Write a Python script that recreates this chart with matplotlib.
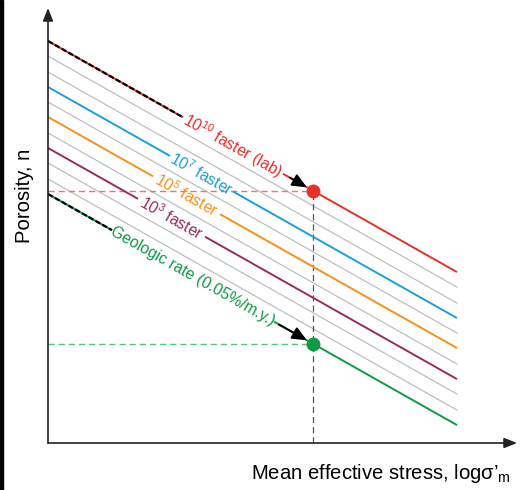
import numpy as np
import matplotlib
matplotlib.use("Agg")
import matplotlib.pyplot as plt
from matplotlib.patches import Rectangle

plt.rcParams['font.family'] = ['Liberation Sans', 'DejaVu Sans']
plt.rcParams['mathtext.fontset'] = 'custom'
plt.rcParams['mathtext.rm'] = 'Liberation Sans'
plt.rcParams['mathtext.it'] = 'Liberation Sans:italic'
plt.rcParams['lines.scale_dashes'] = False

# ---------------- data (arbitrary units: log stress vs porosity) ----------------
stress_start = 0.0
stress_end = 4.09
stress_point = 2.65
slope = -0.565
# porosity at stress_start for each of the 11 parallel compaction lines (top -> bottom)
porosity_intercepts = [4.02, 3.87, 3.71, 3.56, 3.41, 3.26, 3.10, 2.95, 2.80, 2.64, 2.49]
line_kinds = ['lab', 'gray', 'gray', 'e7', 'gray', 'e5', 'gray', 'e3', 'gray', 'gray', 'geo']

labels = {
    'lab': r"$\mathregular{10^{10}}$ faster (lab)",
    'e7': r"$\mathregular{10^{7}}$ faster",
    'e5': r"$\mathregular{10^{5}}$ faster",
    'e3': r"$\mathregular{10^{3}}$ faster",
    'geo': "Geologic rate (0.05%/m.y.)",
}
colors = {
    'lab': '#e8302b',
    'e7': '#1ba0dc',
    'e5': '#f5921e',
    'e3': '#962d5f',
    'geo': '#0f9a47',
    'gray': '#b8b8b8',
}
# gap in each coloured line where its label sits (stress units)
label_gaps = {
    'lab': (1.35, 2.35),
    'e7': (1.22, 1.85),
    'e5': (1.05, 1.72),
    'e3': (0.90, 1.57),
    'geo': (0.64, 2.26),
}
arrow_start = {'lab': 2.42, 'geo': 2.31}
xlabel = "Mean effective stress, log\u03c3\u2019$_{\\mathregular{m}}$"
ylabel = "Porosity, n"

# ---------------- figure ----------------
W, H = 525, 490
fig = plt.figure(figsize=(W / 100, H / 100), dpi=100)
ax = fig.add_axes([48 / W, 47 / H, 469 / W, 435 / H])
ax.set_xlim(0, 4.69)
ax.set_ylim(0, 4.35)
ax.axis('off')

fig.patches.append(Rectangle((0, 0), 3 / W, 1, transform=fig.transFigure,
                             color='black', zorder=10))

def por(x, b):
    return b + slope * x

angle = np.degrees(np.arctan(slope))

for b, kind in zip(porosity_intercepts, line_kinds):
    c = colors[kind]
    if kind == 'gray':
        xs = np.array([stress_start, stress_end])
        ax.plot(xs, por(xs, b), color=c, lw=0.8, zorder=1)
        continue
    g0, g1 = label_gaps[kind]
    xs1 = np.array([stress_start, g0])
    xs2 = np.array([g1, stress_end])
    ax.plot(xs1, por(xs1, b), color=c, lw=1.4, zorder=2, solid_capstyle='butt')
    ax.plot(xs2, por(xs2, b), color=c, lw=1.4, zorder=2, solid_capstyle='butt')
    if kind in ('lab', 'geo'):
        ax.plot(xs1, por(xs1, b), color='black', lw=1.6, zorder=3,
                dashes=(4.0, 1.6))
        # arrow to point
        xa = arrow_start[kind]
        ax.annotate('', xy=(stress_point, por(stress_point, b)),
                    xytext=(xa, por(xa, b)),
                    arrowprops=dict(arrowstyle='-|>,head_length=0.8,head_width=0.35',
                                    color='black', lw=1.4, mutation_scale=11,
                                    shrinkA=0, shrinkB=5),
                    zorder=4)
        yp = por(stress_point, b)
        hc = '#f07468' if kind == 'lab' else '#5fbf80'
        ax.plot([0, stress_point], [yp, yp], color=hc, lw=1.0, dashes=(4.5, 2.8), zorder=1.5)
        ax.plot([stress_point], [yp], 'o', color=c, ms=10, zorder=5, mec='none')
    xm = (g0 + g1) / 2
    ax.text(xm, por(xm, b), labels[kind], color=c, fontsize=11.3,
            rotation=angle, transform_rotates_text=True, rotation_mode='anchor',
            ha='center', va='center', zorder=6)

# vertical dashed line from upper point to axis
yp_top = por(stress_point, porosity_intercepts[0])
ax.plot([stress_point, stress_point], [0, yp_top], color='#555555', lw=0.9,
        dashes=(4.5, 2.8), zorder=1.5)

# axes with arrows
for xy in [(1, 0), (0, 1)]:
    ax.annotate('', xy=xy, xytext=(0, 0), xycoords='axes fraction',
                textcoords='axes fraction',
                arrowprops=dict(arrowstyle='-|>,head_length=0.55,head_width=0.22',
                                color='#222222', lw=1.2, mutation_scale=14,
                                shrinkA=0, shrinkB=0))

fig.text(511 / W, (H - 479) / H, xlabel, fontsize=14.6, ha='right', va='baseline')
fig.text(25 / W, (H - 196) / H, ylabel, fontsize=14.6, rotation=90,
         ha='center', va='center')

fig.savefig('out.png', dpi=100)
